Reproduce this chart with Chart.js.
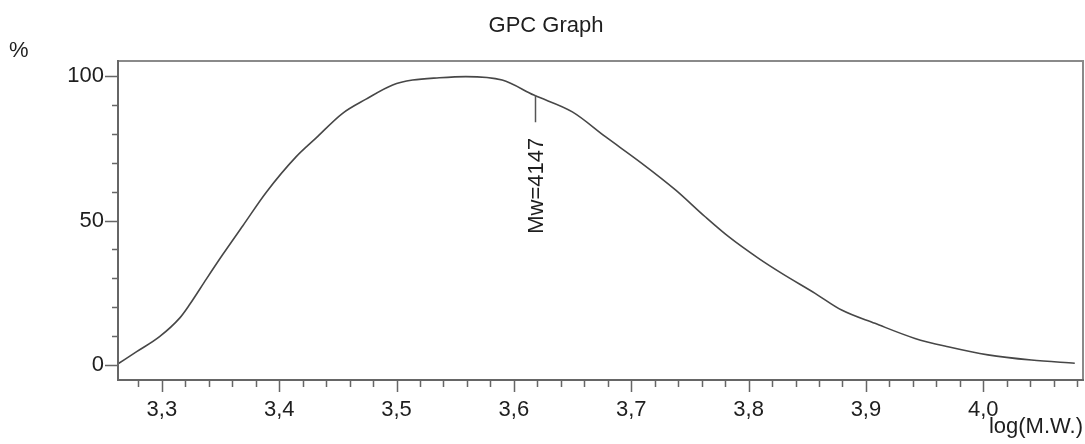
<!DOCTYPE html>
<html>
<head>
<meta charset="utf-8">
<script src="https://cdn.jsdelivr.net/npm/chart.js@4.4.1/dist/chart.umd.min.js"></script>
<style>
  html, body { margin: 0; padding: 0; background: #ffffff; }
  #wrap { width: 1085px; height: 444px; position: relative; }
</style>
</head>
<body>
<div id="wrap"><canvas id="c" width="1085" height="444"></canvas></div>
<script>
// ---- data ----
const logMW = [3.263, 3.2785, 3.298, 3.3153, 3.3238, 3.338, 3.352, 3.369, 3.389, 3.4145, 3.4315, 3.454, 3.474, 3.4967, 3.5137, 3.5364, 3.559, 3.590, 3.617, 3.6498, 3.678, 3.709, 3.7377, 3.763, 3.783, 3.8085, 3.8283, 3.8567, 3.8793, 3.9077, 3.9418, 3.970, 4.004, 4.041, 4.078];
const percent = [0.5, 4.6, 9.8, 16.3, 21.0, 29.8, 38.3, 48.2, 59.8, 72.1, 78.6, 87.1, 92.0, 96.9, 98.6, 99.4, 99.8, 98.6, 93.4, 87.6, 79.0, 69.8, 60.6, 51.3, 44.4, 36.9, 31.7, 24.8, 19.0, 14.4, 9.2, 6.3, 3.5, 1.7, 0.6];
const xTickValues = [3.3, 3.4, 3.5, 3.6, 3.7, 3.8, 3.9, 4.0];
const xTickLabels = ['3,3', '3,4', '3,5', '3,6', '3,7', '3,8', '3,9', '4,0'];
const yTickValues = [0, 50, 100];
const yTickLabels = ['0', '50', '100'];
const titleText = 'GPC Graph';
const yUnitText = '%';
const xUnitText = 'log(M.W.)';
const mwValue = 4147;
const mwMarkerTop = 93.4;
const mwMarkerBottom = 84;
const mwLabelCenter = 62;

// ---- styling ----
const FONT = "'Liberation Sans', Arial, Helvetica, sans-serif";
const TEXT = '#1e1e1e';
const AXIS = '#666666';
const X_MIN = 3.2626, X_MAX = 4.085, Y_MIN = -5.2, Y_MAX = 105.2;
const X_MINOR = 0.02, Y_MINOR = 10;

const points = logMW.map((x, i) => ({ x: x, y: percent[i] }));

const decor = {
  id: 'decor',
  afterDraw(chart) {
    const ctx = chart.ctx;
    const a = chart.chartArea;
    const xs = chart.scales.x, ys = chart.scales.y;
    ctx.save();
    // frame (top/right)
    ctx.strokeStyle = '#8a8a8a';
    ctx.lineWidth = 2;
    ctx.beginPath();
    ctx.moveTo(a.left, a.top); ctx.lineTo(a.right, a.top); ctx.lineTo(a.right, a.bottom);
    ctx.stroke();
    // axes
    ctx.strokeStyle = AXIS;
    ctx.lineWidth = 2;
    ctx.beginPath();
    ctx.moveTo(a.left, a.top - 1); ctx.lineTo(a.left, a.bottom); ctx.lineTo(a.right + 1, a.bottom);
    ctx.stroke();
    // x ticks
    ctx.lineWidth = 1.5;
    ctx.beginPath();
    const n0 = Math.ceil(X_MIN / X_MINOR - 1e-6), n1 = Math.floor(X_MAX / X_MINOR + 1e-6);
    for (let n = n0; n <= n1; n++) {
      const v = n * X_MINOR;
      const px = Math.round(xs.getPixelForValue(v)) + 0.5;
      const major = xTickValues.some(t => Math.abs(t - v) < 1e-6);
      ctx.moveTo(px, a.bottom);
      ctx.lineTo(px, a.bottom + (major ? 12 : 7));
    }
    // y ticks
    for (let v = 0; v <= 100 + 1e-6; v += Y_MINOR) {
      const py = Math.round(ys.getPixelForValue(v)) + 0.5;
      const major = yTickValues.includes(Math.round(v));
      ctx.moveTo(a.left, py);
      ctx.lineTo(a.left - (major ? 13 : 6), py);
    }
    ctx.stroke();
    // Mw marker
    const mx = xs.getPixelForValue(Math.log10(mwValue));
    ctx.strokeStyle = '#555';
    ctx.lineWidth = 1.5;
    ctx.beginPath();
    ctx.moveTo(Math.round(mx) + 0.5, ys.getPixelForValue(mwMarkerTop));
    ctx.lineTo(Math.round(mx) + 0.5, ys.getPixelForValue(mwMarkerBottom));
    ctx.stroke();
    ctx.fillStyle = TEXT;
    ctx.font = '22px ' + FONT;
    ctx.save();
    ctx.translate(mx + 8, ys.getPixelForValue(mwLabelCenter));
    ctx.rotate(-Math.PI / 2);
    ctx.textAlign = 'center';
    ctx.textBaseline = 'alphabetic';
    ctx.fillText('Mw=' + mwValue, 0, 0);
    ctx.restore();
    // title and units
    ctx.font = '22px ' + FONT;
    ctx.textAlign = 'center';
    ctx.textBaseline = 'alphabetic';
    ctx.fillText(titleText, 546, 32);
    ctx.textAlign = 'left';
    ctx.fillText(yUnitText, 9, 57);
    ctx.textAlign = 'right';
    ctx.fillText(xUnitText, 1083, 433);
    ctx.restore();
  }
};

new Chart(document.getElementById('c'), {
  type: 'line',
  data: {
    datasets: [{
      data: points,
      borderColor: '#474747',
      borderWidth: 1.6,
      pointRadius: 0,
      fill: false,
      cubicInterpolationMode: 'monotone'
    }]
  },
  options: {
    responsive: false,
    animation: false,
    devicePixelRatio: 1,
    layout: { padding: { top: 61, right: 2, left: 0, bottom: 0 } },
    plugins: { legend: { display: false }, title: { display: false }, tooltip: { enabled: false } },
    scales: {
      x: {
        type: 'linear',
        min: X_MIN, max: X_MAX,
        afterBuildTicks: s => { s.ticks = xTickValues.map(v => ({ value: v })); },
        afterFit: s => { s.height = 64; },
        ticks: {
          autoSkip: false, maxRotation: 0, padding: 17,
          color: TEXT, font: { family: FONT, size: 22 },
          callback: (v) => { const i = xTickValues.findIndex(t => Math.abs(t - v) < 1e-6); return i >= 0 ? xTickLabels[i] : ''; }
        },
        grid: { display: false, drawTicks: false },
        border: { display: false }
      },
      y: {
        type: 'linear',
        min: Y_MIN, max: Y_MAX,
        afterBuildTicks: s => { s.ticks = yTickValues.map(v => ({ value: v })); },
        afterFit: s => { s.width = 118; },
        ticks: {
          autoSkip: false, padding: 14,
          color: TEXT, font: { family: FONT, size: 22 },
          callback: (v) => { const i = yTickValues.indexOf(v); return i >= 0 ? yTickLabels[i] : ''; }
        },
        grid: { display: false, drawTicks: false },
        border: { display: false }
      }
    }
  },
  plugins: [decor]
});
</script>
</body>
</html>
